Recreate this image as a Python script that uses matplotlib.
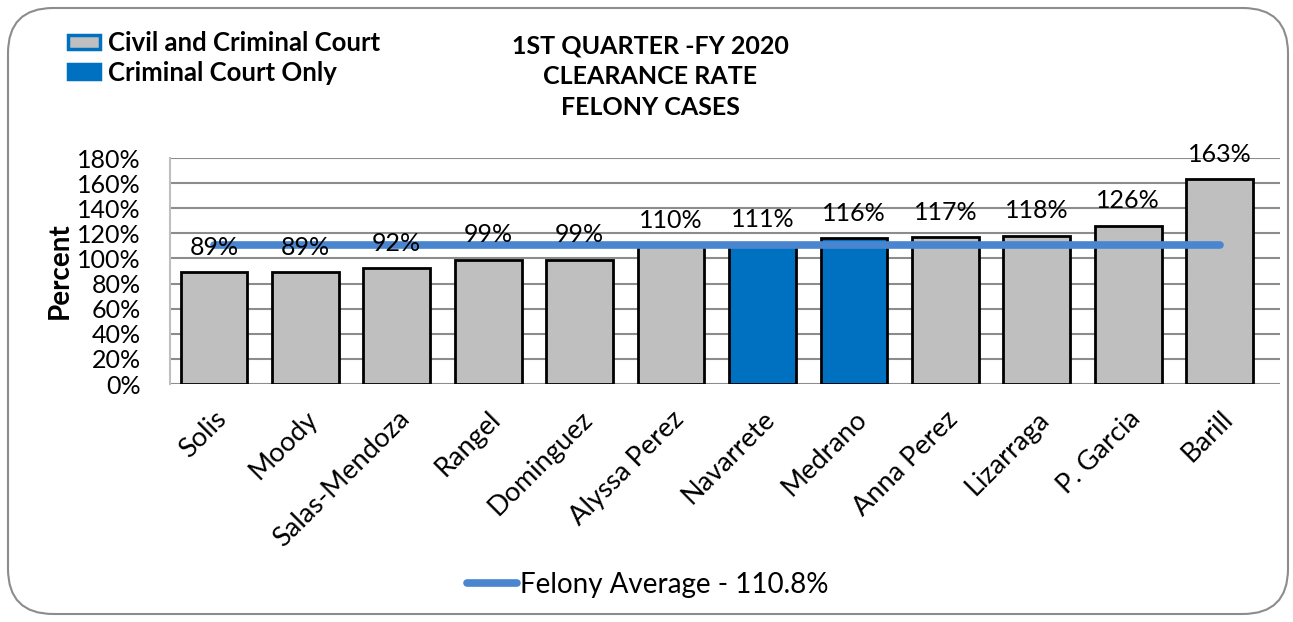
import matplotlib
matplotlib.use('Agg')
import matplotlib.pyplot as plt
from matplotlib.patches import FancyBboxPatch, Patch
from matplotlib.lines import Line2D
import numpy as np

judges = ['Solis', 'Moody', 'Salas-Mendoza', 'Rangel', 'Dominguez', 'Alyssa Perez',
          'Navarrete', 'Medrano', 'Anna Perez', 'Lizarraga', 'P. Garcia', 'Barill']
clearance = [89, 89, 92, 99, 99, 110, 111, 116, 117, 118, 126, 163]
criminal_only = [False, False, False, False, False, False, True, True, False, False, False, False]
felony_avg = 110.8
yticks = [0, 20, 40, 60, 80, 100, 120, 140, 160, 180]

gray = '#bfbfbf'
blue = '#0070c0'
line_blue = '#4a86d0'

plt.rcParams['font.family'] = ['Lato', 'DejaVu Sans']

fig = plt.figure(figsize=(12.93, 6.22), dpi=100)
W, H = 1293, 622

# rounded outer frame, kept behind the axes
frame = FancyBboxPatch((8 / W, 8 / H), 1280 / W, 606 / H,
                       boxstyle='round,pad=0,rounding_size=0.035',
                       transform=fig.transFigure, facecolor='white',
                       edgecolor='#8c8c8c', linewidth=1.5, mutation_aspect=W / H,
                       zorder=-10)
fig.patches.append(frame)

ax = fig.add_axes([170 / W, (H - 384) / H, 1110 / W, 226 / H])
ax.set_facecolor('none')

x = np.arange(len(judges))
colors = [blue if c else gray for c in criminal_only]
bars = ax.bar(x, clearance, width=0.73, color=colors, edgecolor='black',
              linewidth=2, zorder=3)

for xi, v in zip(x, clearance):
    ax.annotate(f'{v}%', (xi, v), xytext=(0, 18), textcoords='offset points',
                ha='center', va='center', fontsize=18, zorder=5)

ax.plot([x[0], x[-1]], [felony_avg, felony_avg], color=line_blue, linewidth=5.5,
        solid_capstyle='round', zorder=4)

ax.set_xlim(-0.48, 11.66)
ax.set_ylim(0, 180)
ax.set_yticks(yticks)
ax.set_yticklabels([f'{t}%' for t in yticks], fontsize=18)
ax.yaxis.grid(True, color='#8c8c8c', linewidth=1.5, zorder=0)
ax.set_axisbelow(True)
ax.tick_params(axis='y', length=0, pad=21)
ax.tick_params(axis='x', length=0, pad=16)
ax.set_xticks(x)
ax.set_xticklabels(judges, rotation=45, ha='right', rotation_mode='anchor', fontsize=19.5)
for s in ['top', 'right', 'bottom']:
    ax.spines[s].set_visible(False)
ax.spines['left'].set_color('#bfbfbf')
ax.spines['left'].set_linewidth(1.5)
ax.set_ylabel('Percent', fontsize=20, fontweight='bold', labelpad=3)

fig.text(650 / W, 1 - 77 / H, '1ST QUARTER -FY 2020\nCLEARANCE RATE\nFELONY CASES',
         ha='center', va='center', fontsize=18, fontweight='bold', linespacing=1.4)

bar_handles = [Patch(facecolor=gray, edgecolor=blue, linewidth=2.5),
               Patch(facecolor=blue, edgecolor=blue, linewidth=2.5)]
leg1 = fig.legend(bar_handles, ['Civil and Criminal Court', 'Criminal Court Only'],
                  loc='upper left', bbox_to_anchor=(68 / W, 1 - 31 / H), frameon=False,
                  prop={'size': 18.5, 'weight': 'bold'}, handlelength=1.25, handleheight=0.47,
                  handletextpad=0.3, labelspacing=0.22, borderpad=0, borderaxespad=0)

line_handle = [Line2D([0], [0], color=line_blue, linewidth=5.5, solid_capstyle='round')]
leg2 = fig.legend(line_handle, ['Felony Average - 110.8%'], loc='center left',
                  bbox_to_anchor=(467 / W, 1 - 585 / H), frameon=False,
                  prop={'size': 20}, handlelength=1.8, handletextpad=0.1, borderpad=0,
                  borderaxespad=0)

fig.savefig('out.png', dpi=100)
